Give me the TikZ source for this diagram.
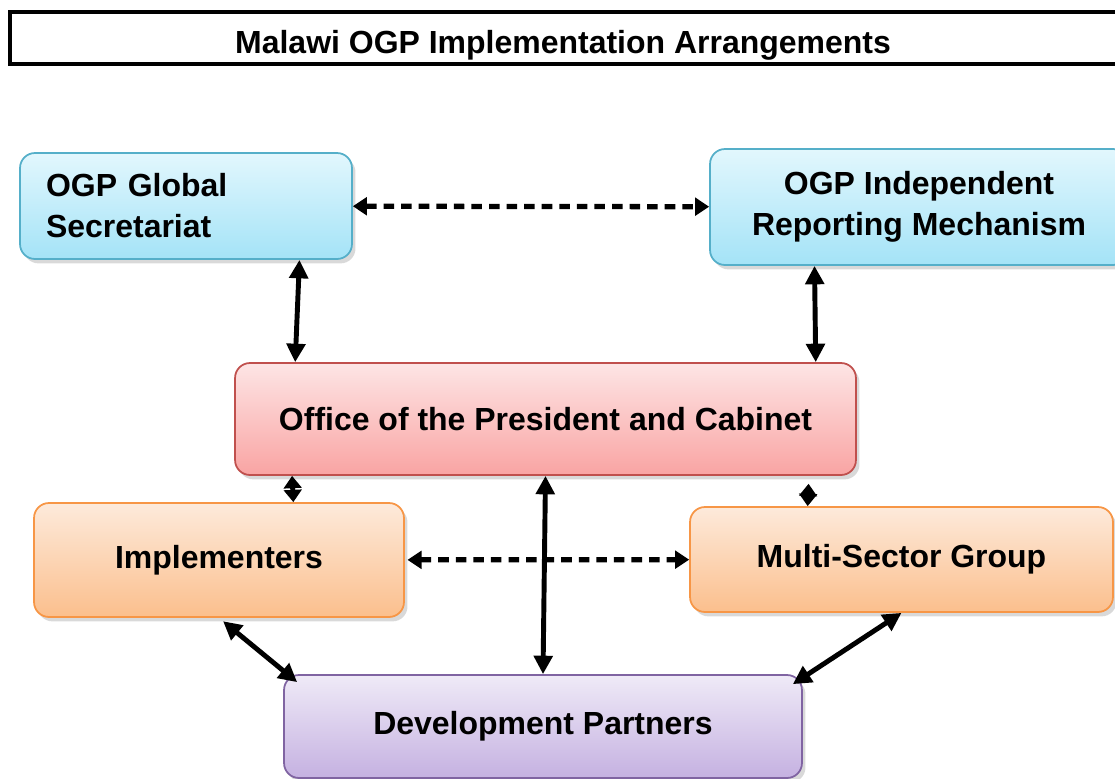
\documentclass[tikz,border=0pt]{standalone}
\usepackage{fontspec}
\setmainfont{Liberation Sans}
\usetikzlibrary{arrows.meta, shadows, calc}
\definecolor{BlueEdge}{HTML}{55AFC9}
\definecolor{BlueTop}{HTML}{E2F7FD}
\definecolor{BlueBot}{HTML}{A4E3F7}
\definecolor{RedEdge}{HTML}{C0504D}
\definecolor{RedTop}{HTML}{FDE5E5}
\definecolor{RedBot}{HTML}{F9A4A3}
\definecolor{OrangeEdge}{HTML}{F79646}
\definecolor{OrangeTop}{HTML}{FDEADB}
\definecolor{OrangeBot}{HTML}{FBBF8D}
\definecolor{PurpleEdge}{HTML}{8064A2}
\definecolor{PurpleTop}{HTML}{EFEAF7}
\definecolor{PurpleBot}{HTML}{C5B1E1}

\begin{document}
\begin{tikzpicture}[x=0.02cm, y=-0.02cm,
	every node/.style={font=\fontsize{18.2}{23.3}\selectfont\bfseries},
	box/.style={draw, line width=1pt, rounded corners=8.5pt, drop shadow={opacity=.3, shadow xshift=2pt, shadow yshift=-2.5pt}},
	bluebox/.style={box, draw=BlueEdge, top color=BlueTop, bottom color=BlueBot},
	redbox/.style={box, draw=RedEdge, top color=RedTop, bottom color=RedBot},
	orangebox/.style={box, draw=OrangeEdge, top color=OrangeTop, bottom color=OrangeBot},
	purplebox/.style={box, draw=PurpleEdge, top color=PurpleTop, bottom color=PurpleBot},
	link/.style={line width=2.8pt, {Triangle[length=10.5pt,width=10.5pt]}-{Triangle[length=10.5pt,width=10.5pt]}},
	shortlink/.style={line width=2.8pt, {Triangle[length=7pt,width=10pt]}-{Triangle[length=7pt,width=10pt]}},
	dlink/.style={line width=3pt, dash pattern=on 6pt off 4pt, {Triangle[length=8pt,width=10pt]}-{Triangle[length=8pt,width=10pt]}}]
	\useasboundingbox (0,0) rectangle (1115,778);
	\node[anchor=base] (title) at (563,53) {Malawi OGP Implementation Arrangements};
	\draw[line width=2.3pt] (10,12) rectangle (1140,64);
	\node[bluebox, text width=5.6cm, inner xsep=.52cm, minimum height=2.12cm, align=left] (glob) at (186,206) {OGP Global\\Secretariat};
	\node[bluebox, minimum width=8.36cm, minimum height=2.32cm, align=center] (irm) at (919,207) {OGP Independent\\Reporting Mechanism};
	\node[redbox, minimum width=12.42cm, minimum height=2.24cm] (opc) at (545.5,419) {Office of the President and Cabinet};
	\node[orangebox, minimum width=7.4cm, minimum height=2.28cm] (impl) at (219,560) {Implementers};
	\node[orangebox, minimum width=8.46cm, minimum height=2.1cm] (msg) at (901.5,559.5) {Multi-Sector Group};
	\node[purplebox, minimum width=10.36cm, minimum height=2.06cm] (dp) at (543,726.5) {Development Partners};
	\draw[dlink] (glob) -- (irm);
	\draw[link] ($(glob.south west)!.84!(glob.south east)$) -- ($(opc.north west)!.098!(opc.north east)$);
	\draw[link] ($(irm.south west)!.251!(irm.south east)$) -- ($(opc.north west)!.934!(opc.north east)$);
	\draw[shortlink] ($(opc.south west)!.093!(opc.south east)$) -- ($(impl.north west)!.7!(impl.north east)$);
	\draw[shortlink, shorten <=4.5pt] ($(opc.south west)!.923!(opc.south east)$) -- ($(msg.north west)!.279!(msg.north east)$);
	\draw[dlink, shorten <=1.5pt] (impl) -- (msg);
	\draw[link] (opc.south) -- (dp.north);
	\draw[link, shorten <=3pt] (impl.south) -- ($(dp.north west)+(14,8)$);
	\draw[link] (msg.south) -- ($(dp.north east)+(-10,10)$);
\end{tikzpicture}
\end{document}
